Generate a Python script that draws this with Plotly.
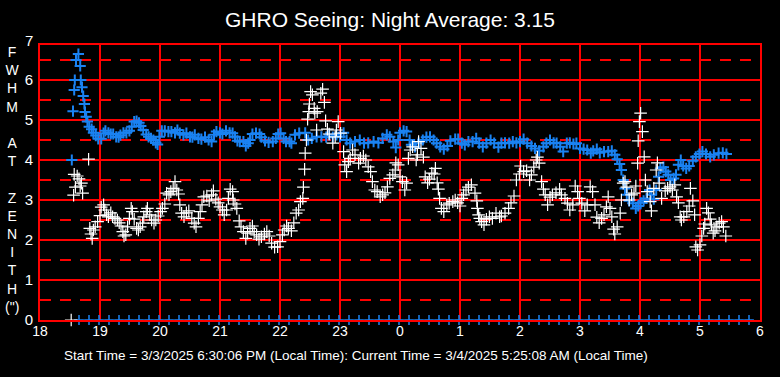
import plotly.graph_objects as go

# ---------------- data ----------------
hour_ticks = [18, 19, 20, 21, 22, 23, 24, 25, 26, 27, 28, 29, 30]
hour_labels = ["18", "19", "20", "21", "22", "23", "0", "1", "2", "3", "4", "5", "6"]
y_ticks = [0, 1, 2, 3, 4, 5, 6]
half_lines = [0.5, 1.5, 2.5, 3.5, 4.5, 5.5, 6.5]

title_text = "GHRO Seeing: Night Average: 3.15"
footer_text = ("Start Time = 3/3/2025 6:30:06 PM (Local Time): "
               "Current Time = 3/4/2025 5:25:08 AM (Local Time)")
ytitle_letters = ["F", "W", "H", "M", " ", "A", "T", " ", "Z", "E", "N", "I", "T", "H", "(\")"]

# blue series (hour, FWHM)
blue_t = [18.53, 18.62, 18.64, 18.60, 18.67, 18.58, 18.68, 18.70, 18.57, 18.72, 18.74, 18.55, 18.75, 18.77,
          18.79, 18.82, 18.86, 18.89, 18.93, 18.97, 19.02, 19.06, 19.09, 19.14, 19.18, 19.22, 19.27, 19.31,
          19.34, 19.39, 19.44, 19.49, 19.53, 19.57, 19.61, 19.65, 19.68, 19.72, 19.77, 19.81, 19.85, 19.89,
          19.93, 19.96, 19.99, 20.03, 20.08, 20.14, 20.19, 20.25, 20.29, 20.33, 20.39, 20.44, 20.50, 20.54,
          20.58, 20.64, 20.69, 20.75, 20.81, 20.86, 20.90, 20.94, 21.00, 21.04, 21.10, 21.16, 21.21, 21.25,
          21.29, 21.33, 21.39, 21.43, 21.47, 21.50, 21.54, 21.60, 21.66, 21.69, 21.75, 21.81, 21.88, 21.93,
          21.97, 22.01, 22.06, 22.10, 22.16, 22.19, 22.25, 22.32, 22.42, 22.47, 22.53, 22.61, 22.69, 22.77,
          22.82, 22.88, 22.94, 23.00, 23.06, 23.11, 23.17, 23.25, 23.33, 23.40, 23.47, 23.56, 23.64, 23.71,
          23.78, 23.83, 23.89, 23.93, 23.97, 24.00, 24.06, 24.11, 24.16, 24.19, 24.25, 24.31, 24.38, 24.44,
          24.50, 24.56, 24.61, 24.67, 24.73, 24.79, 24.84, 24.92, 24.97, 25.03, 25.08, 25.14, 25.21, 25.27,
          25.32, 25.38, 25.44, 25.51, 25.57, 25.64, 25.69, 25.75, 25.82, 25.88, 25.94, 26.00, 26.06, 26.12,
          26.19, 26.25, 26.32, 26.39, 26.44, 26.50, 26.56, 26.61, 26.67, 26.72, 26.78, 26.83, 26.89, 26.94,
          27.00, 27.06, 27.12, 27.18, 27.22, 27.28, 27.33, 27.40, 27.47, 27.53, 27.58, 27.62, 27.66, 27.69,
          27.72, 27.75, 27.78, 27.82, 27.88, 27.93, 27.97, 28.01, 28.06, 28.11, 28.16, 28.19, 28.23, 28.27,
          28.31, 28.34, 28.39, 28.43, 28.47, 28.51, 28.56, 28.60, 28.64, 28.68, 28.72, 28.77, 28.82, 28.88,
          28.93, 28.99, 29.04, 29.10, 29.17, 29.23, 29.31, 29.38, 29.44]
blue_v = [4.00, 7.00, 6.65, 6.50, 6.35, 6.00, 6.00, 5.82, 5.75, 5.60, 5.40, 5.22, 5.20, 5.08,
          4.96, 4.83, 4.77, 4.68, 4.61, 4.53, 4.53, 4.67, 4.73, 4.68, 4.65, 4.65, 4.58, 4.57,
          4.62, 4.68, 4.68, 4.73, 4.83, 4.96, 4.97, 4.93, 4.85, 4.75, 4.64, 4.58, 4.54, 4.50,
          4.43, 4.39, 4.58, 4.73, 4.73, 4.71, 4.71, 4.68, 4.75, 4.67, 4.63, 4.67, 4.58, 4.57,
          4.63, 4.54, 4.52, 4.57, 4.50, 4.46, 4.63, 4.71, 4.68, 4.65, 4.73, 4.68, 4.67, 4.58,
          4.48, 4.46, 4.46, 4.35, 4.42, 4.50, 4.65, 4.67, 4.65, 4.57, 4.48, 4.44, 4.46, 4.54,
          4.65, 4.67, 4.54, 4.46, 4.46, 4.42, 4.63, 4.67, 4.68, 4.50, 4.54, 4.58, 4.58, 4.57,
          4.63, 4.57, 4.63, 4.58, 4.68, 4.50, 4.42, 4.46, 4.50, 4.42, 4.43, 4.46, 4.43, 4.54,
          4.63, 4.58, 4.46, 4.31, 4.50, 4.68, 4.73, 4.71, 4.50, 4.38, 4.33, 4.42, 4.50, 4.57,
          4.58, 4.50, 4.42, 4.33, 4.27, 4.35, 4.48, 4.52, 4.52, 4.42, 4.38, 4.46, 4.46, 4.54,
          4.42, 4.33, 4.42, 4.50, 4.42, 4.32, 4.42, 4.43, 4.42, 4.46, 4.43, 4.46, 4.52, 4.42,
          4.35, 4.29, 4.23, 4.33, 4.42, 4.50, 4.43, 4.42, 4.33, 4.21, 4.42, 4.43, 4.40, 4.42,
          4.29, 4.27, 4.25, 4.17, 4.23, 4.27, 4.18, 4.21, 4.21, 4.23, 4.13, 4.02, 3.90, 3.75,
          3.50, 3.29, 3.13, 2.98, 2.92, 2.79, 2.85, 2.93, 2.98, 3.04, 3.25, 3.13, 3.02, 3.25,
          3.58, 3.79, 3.82, 3.71, 3.63, 3.50, 3.54, 3.63, 3.88, 4.00, 3.85, 3.79, 3.85, 3.98,
          4.08, 4.15, 4.21, 4.15, 4.08, 4.13, 4.17, 4.18, 4.15]

# blue markers along the zero line (minutes after 18:00)
zero_min = [39, 49, 59, 69, 79, 89, 99, 109, 119, 129, 139, 149, 159, 169, 179, 189, 199, 209, 219, 229,
            239, 249, 259, 269, 279, 289, 299, 309, 319, 329, 339, 349, 359, 369, 379, 389, 399, 409, 419,
            429, 439, 449, 459, 469, 479, 489, 499, 509, 519, 529, 539, 549, 559, 569, 579, 589, 599, 609,
            619, 629, 639, 649, 659, 669, 679, 689, 699, 709]
zero_val = [0.0] * len(zero_min)

# white series (hour, FWHM)
white_t = [18.52, 18.72, 18.75, 18.78, 18.81,
           18.81, 18.57, 18.62, 18.65, 18.59, 18.69, 18.67, 18.56, 18.71, 18.87, 18.85, 18.83, 18.89, 18.92,
           18.96, 19.00, 19.02, 19.06, 19.08, 19.11, 19.14, 19.18, 19.21, 19.25, 19.29, 19.32, 19.35, 19.38,
           19.40, 19.43, 19.46, 19.49, 19.52, 19.54, 19.57, 19.61, 19.64, 19.67, 19.71, 19.73, 19.77, 19.79,
           19.83, 19.86, 19.90, 19.93, 19.97, 20.01, 20.04, 20.08, 20.11, 20.15, 20.18, 20.22, 20.25, 20.28,
           20.31, 20.33, 20.36, 20.40, 20.44, 20.48, 20.53, 20.57, 20.60, 20.64, 20.67, 20.70, 20.73, 20.78,
           20.82, 20.86, 20.89, 20.93, 20.97, 21.00, 21.04, 21.07, 21.11, 21.14, 21.17, 21.21, 21.22, 21.25,
           21.28, 21.32, 21.35, 21.39, 21.43, 21.46, 21.50, 21.54, 21.57, 21.61, 21.65, 21.69, 21.74, 21.78,
           21.82, 21.86, 21.91, 21.96, 22.00, 22.04, 22.07, 22.11, 22.14,
           22.19, 22.23, 22.27, 22.31, 22.34, 22.38, 22.39, 22.41, 22.42, 22.44, 22.46, 22.48, 22.49, 22.51,
           22.54, 22.57, 22.58, 22.62, 22.61, 22.68, 22.71, 22.74, 22.76, 22.79, 22.82, 22.88, 22.92, 22.94,
           22.97, 23.01, 23.06, 23.08, 23.11, 23.14, 23.17, 23.21, 23.25, 23.31, 23.34, 23.39, 23.43, 23.47,
           23.51, 23.54, 23.58, 23.62, 23.67, 23.71, 23.75, 23.79, 23.83, 23.88, 23.92, 23.93, 23.97, 24.00,
           24.04, 24.08, 24.11, 24.14, 24.17, 24.21, 24.27, 24.29, 24.31, 24.35, 24.39, 24.42, 24.46, 24.49,
           24.53, 24.57, 24.59, 24.62, 24.64, 24.66, 24.69, 24.73, 24.78, 24.82, 24.88, 24.92, 24.96, 25.00,
           25.03, 25.06, 25.10, 25.14, 25.19, 25.25, 25.28, 25.29, 25.31, 25.33, 25.36, 25.40, 25.44, 25.49,
           25.54, 25.60, 25.66, 25.69, 25.75, 25.81, 25.85, 25.90, 25.94, 25.99, 26.01, 26.06, 26.11, 26.16,
           26.19, 26.23, 26.27, 26.29, 26.32, 26.36, 26.39, 26.42, 26.46, 26.50, 26.54, 26.60, 26.66, 26.69,
           26.75, 26.79, 26.83, 26.88, 26.92, 26.96, 26.99, 27.03, 27.08, 27.12, 27.17, 27.21, 27.25, 27.28,
           27.32, 27.36, 27.40, 27.44, 27.47, 27.50, 27.53, 27.56, 27.58, 27.62, 27.67, 27.69, 27.72, 27.75,
           27.78, 27.82, 27.86, 27.90, 27.93, 27.96, 27.97, 27.99, 28.01, 28.04, 28.07, 28.09, 28.12, 28.17,
           28.19, 28.23, 28.27, 28.29, 28.32, 28.36, 28.42, 28.46, 28.50, 28.54, 28.58, 28.61, 28.64, 28.67,
           28.69, 28.73, 28.78, 28.82, 28.84, 28.88, 28.91, 28.93, 28.96, 29.00, 29.03, 29.06, 29.08, 29.11,
           29.14, 29.17, 29.19, 29.22, 29.25, 29.28, 29.32, 29.36, 29.39, 29.43]
white_v = [0.00, 7.00, 7.00, 7.00, 7.00,
           4.02, 3.64, 3.60, 3.53, 3.32, 3.42, 3.35, 3.12, 3.17, 2.04, 2.15, 2.29, 2.25, 2.33,
           2.46, 2.61, 2.82, 2.88, 2.75, 2.63, 2.58, 2.68, 2.58, 2.54, 2.50, 2.43, 2.35, 2.21,
           2.10, 2.13, 2.33, 2.54, 2.79, 2.71, 2.52, 2.29, 2.25, 2.33, 2.42, 2.58, 2.71, 2.79,
           2.63, 2.50, 2.42, 2.50, 2.60, 2.71, 2.79, 2.90, 3.17, 3.13, 3.21, 3.29, 3.46, 3.25,
           3.15, 2.88, 2.67, 2.58, 2.68, 2.73, 2.54, 2.42, 2.33, 2.54, 2.71, 2.88, 3.08, 3.10,
           2.98, 3.13, 3.23, 3.02, 2.93, 2.83, 2.75, 2.63, 2.75, 3.04, 3.27, 3.21, 3.00, 2.90,
           2.79, 2.48, 2.33, 2.21, 2.04, 2.17, 2.29, 2.35, 2.21, 2.13, 2.02, 2.08, 2.15, 2.21,
           2.10, 1.92, 1.82, 1.83, 1.96, 2.13, 2.25, 2.35, 2.29,
           2.23, 2.43, 2.67, 2.75, 2.96, 3.04, 3.32, 3.77, 4.17, 4.50, 5.02, 5.21, 5.40, 5.71,
           5.63, 5.29, 5.17, 5.21, 4.75, 5.67, 5.77, 5.44, 4.98, 4.77, 4.65, 4.42, 4.58, 4.75,
           4.96, 4.67, 4.21, 3.88, 3.71, 3.96, 4.04, 4.25, 4.13, 3.92, 4.04, 4.10, 4.00, 3.83,
           3.71, 3.46, 3.25, 3.21, 3.08, 3.13, 3.18, 3.33, 3.54, 3.63, 3.75, 3.93, 3.88, 3.58,
           3.46, 3.25, 3.42, 4.04, 4.25, 4.33, 4.00, 4.13, 4.46, 4.29, 4.07, 3.58, 3.43, 3.52,
           3.67, 3.65, 3.79, 3.43, 3.27, 3.04, 2.79, 2.71, 2.88, 2.92, 2.96, 3.00, 2.93, 2.85,
           3.04, 3.13, 3.25, 3.32, 3.38, 3.17, 2.98, 2.79, 2.63, 2.54, 2.46, 2.38, 2.52, 2.58,
           2.54, 2.67, 2.58, 2.60, 2.67, 2.79, 2.93, 3.10, 3.50, 3.65, 3.85, 3.71, 3.73, 3.50,
           3.63, 3.82, 4.00, 4.07, 3.92, 3.46, 3.27, 3.13, 2.88, 3.07, 3.13, 3.18, 3.27, 3.13,
           3.04, 2.92, 2.75, 2.88, 3.35, 3.21, 3.04, 2.92, 2.73, 2.88, 3.33, 3.21, 2.88, 2.57,
           2.43, 2.54, 2.63, 2.83, 3.08, 2.79, 2.58, 2.27, 2.15, 2.33, 2.67, 3.00, 3.42, 3.46,
           3.32, 3.00, 3.13, 3.17, 3.35, 3.92, 4.48, 4.96, 5.17, 4.71, 4.08, 3.50, 3.21, 2.96,
           2.73, 3.29, 3.75, 3.93, 3.42, 3.04, 3.23, 3.29, 3.33, 3.25, 3.38, 3.08, 2.93, 2.58,
           2.50, 2.58, 2.71, 2.85, 3.29, 2.98, 2.63, 1.83, 1.75, 1.88, 2.10, 2.29, 2.40, 2.79,
           2.68, 2.52, 2.38, 2.17, 2.23, 2.33, 2.42, 2.46, 2.33, 2.10]

# ---------------- figure ----------------
BLUE = "#1a82f2"
RED = "#ff0000"
FONT = "Arial, Liberation Sans, sans-serif"

fig = go.Figure()
fig.add_trace(go.Scatter(
    x=[18 + m / 60 for m in zero_min], y=zero_val, mode="markers", cliponaxis=False,
    marker=dict(symbol="cross-thin", size=7, line=dict(color=BLUE, width=1.5)), hoverinfo="skip"))
fig.add_trace(go.Scatter(
    x=blue_t, y=blue_v, mode="markers", cliponaxis=False,
    marker=dict(symbol="cross-thin", size=8, line=dict(color=BLUE, width=2))))
fig.add_trace(go.Scatter(
    x=white_t, y=white_v, mode="markers", cliponaxis=False,
    marker=dict(symbol="cross-thin", size=9, line=dict(color="white", width=1.2))))

fig.update_layout(
    width=780, height=377,
    margin=dict(l=40, r=20, t=45, b=57),
    paper_bgcolor="black", plot_bgcolor="black",
    showlegend=False,
    font=dict(family=FONT, color="white", size=14),
    title=dict(text=title_text, xref="container", x=0.5, xanchor="center",
               yref="container", y=1 - 20 / 377, yanchor="middle",
               font=dict(family=FONT, size=21, color="white")),
)
fig.update_xaxes(
    range=[18, 30], tickvals=hour_ticks, ticktext=hour_labels,
    showgrid=True, gridcolor=RED, gridwidth=2,
    showline=True, linecolor=RED, linewidth=2, mirror=True,
    zeroline=False, ticks="", ticklabelstandoff=-3,
    tickfont=dict(family=FONT, size=14, color="white"))
fig.update_yaxes(
    range=[0, 6.875], tickvals=y_ticks,
    showgrid=True, gridcolor=RED, gridwidth=2,
    showline=True, linecolor=RED, linewidth=2, mirror=True,
    zeroline=False, ticks="", ticklabelstandoff=2,
    tickfont=dict(family=FONT, size=15, color="white"),
    minor=dict(tickvals=half_lines, showgrid=True, gridcolor=RED, gridwidth=2, griddash="11px,9px"))

# "7" label above the top border
fig.add_annotation(text="7", xref="paper", yref="paper", x=-0.007, y=(320 - 40) / 275,
                   xanchor="right", yanchor="middle", showarrow=False,
                   font=dict(family=FONT, size=15, color="white"))
# vertical y-axis title
fig.add_annotation(text="<br>".join(ytitle_letters), xref="paper", yref="paper",
                   x=(12 - 40) / 720, y=(320 - 179) / 275, xanchor="center", yanchor="middle",
                   showarrow=False, align="center",
                   font=dict(family=FONT, size=14, color="white"))
# footer
fig.add_annotation(text=footer_text, xref="paper", yref="paper",
                   x=(62 - 40) / 720, y=(320 - 355) / 275, xanchor="left", yanchor="middle",
                   showarrow=False, font=dict(family=FONT, size=13.5, color="white"))

fig.write_html("out.html", config={"displayModeBar": False},
               post_script="document.body.style.margin='0px';")
